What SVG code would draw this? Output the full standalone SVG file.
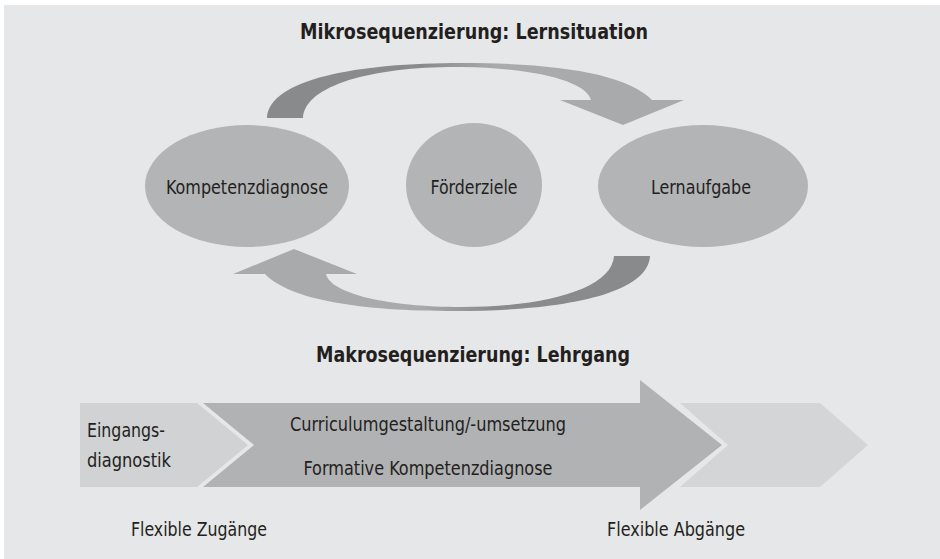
<svg xmlns="http://www.w3.org/2000/svg" width="940" height="559" viewBox="0 0 940 559">
<defs>
<linearGradient id="bandGrad" gradientUnits="userSpaceOnUse" x1="233" y1="0" x2="650" y2="0">
<stop offset="0" stop-color="#a9aaac"/>
<stop offset="0.45" stop-color="#a9aaac"/>
<stop offset="0.62" stop-color="#8a8b8d"/>
<stop offset="1" stop-color="#898a8c"/>
</linearGradient>
<path id="cycleArrow" d="M233,274 L294,249 L357,274 L326,274 C330,292 380,306 455,307 C540,308 612,290 614,256 L650,256 C648,295 560,311 455,311 C360,311 290,300 265,274 Z"/>
</defs>
<style>
.panel{fill:#e6e7e8}
.node{fill:#b3b4b6}
.txt{font-family:"Liberation Sans Narrow","DejaVu Sans Condensed","Liberation Sans",sans-serif;font-size:20px;fill:#231f20}
.title{font-family:"Liberation Sans Narrow","DejaVu Sans Condensed","Liberation Sans",sans-serif;font-size:21px;font-weight:bold;fill:#231f20}
.light{fill:#d1d2d4}
.mid{fill:#b1b2b4}
.lighter{fill:#d4d5d6}
</style>
<rect x="0" y="0" width="940" height="559" fill="#ffffff"/>
<rect class="panel" x="4" y="5" width="936" height="554"/>

<text class="title" x="474" y="39" text-anchor="middle" textLength="348" lengthAdjust="spacingAndGlyphs">Mikrosequenzierung: Lernsituation</text>

<g id="connectors">
<use href="#cycleArrow" fill="url(#bandGrad)" transform="rotate(180 458.5 187)"/>
<use href="#cycleArrow" fill="url(#bandGrad)"/>
</g>

<g id="kompetenzdiagnose">
<ellipse class="node" cx="247" cy="186" rx="102" ry="61"/>
<text class="txt" x="247" y="194" text-anchor="middle" textLength="162" lengthAdjust="spacingAndGlyphs">Kompetenzdiagnose</text>
</g>
<g id="foerderziele">
<ellipse class="node" cx="474" cy="185" rx="68" ry="62"/>
<text class="txt" x="474" y="194" text-anchor="middle" textLength="87" lengthAdjust="spacingAndGlyphs">Förderziele</text>
</g>
<g id="lernaufgabe">
<ellipse class="node" cx="703" cy="186" rx="105" ry="61"/>
<text class="txt" x="701" y="194" text-anchor="middle" textLength="100" lengthAdjust="spacingAndGlyphs">Lernaufgabe</text>
</g>

<text class="title" x="473" y="362" text-anchor="middle" textLength="314" lengthAdjust="spacingAndGlyphs">Makrosequenzierung: Lehrgang</text>

<g id="eingangsdiagnostik">
<polygon class="light" points="80,403 197,403 248,445 197,487 80,487"/>
<text class="txt" x="87" y="437" textLength="78" lengthAdjust="spacingAndGlyphs">Eingangs-</text>
<text class="txt" x="87" y="467" textLength="84" lengthAdjust="spacingAndGlyphs">diagnostik</text>
</g>
<g id="abgang">
<polygon class="lighter" points="680,403 820,403 868,445 820,487 680,487 728,445"/>
</g>
<g id="curriculum">
<polygon class="mid" points="203,403 640,403 640,380 722,445 640,510 640,487 203,487 254,445"/>
<text class="txt" x="428" y="431" text-anchor="middle" textLength="276" lengthAdjust="spacingAndGlyphs">Curriculumgestaltung/-umsetzung</text>
<text class="txt" x="428" y="475" text-anchor="middle" textLength="249" lengthAdjust="spacingAndGlyphs">Formative Kompetenzdiagnose</text>
</g>

<text class="txt" x="131" y="536" textLength="136" lengthAdjust="spacingAndGlyphs">Flexible Zugänge</text>
<text class="txt" x="607" y="536" textLength="138" lengthAdjust="spacingAndGlyphs">Flexible Abgänge</text>
</svg>
